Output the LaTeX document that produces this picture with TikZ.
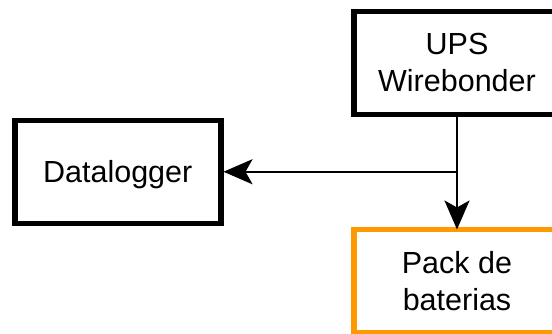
\documentclass[tikz,border=0pt]{standalone}
\usepackage{fontspec}
\setmainfont{Liberation Sans}
\usetikzlibrary{arrows.meta}
\definecolor{boxorange}{HTML}{FF9900}
\begin{document}
\begin{tikzpicture}[x=1pt,y=-1pt,
  box/.style={draw=black, line width=5.5pt, minimum width=206pt, minimum height=103pt,
    inner sep=0pt, align=center, text depth=0pt, font=\fontsize{30.5}{37}\selectfont},
  conn/.style={draw=black, line width=2.5pt,
    -{Stealth[length=29pt, width=25pt, inset=7pt]}}]
\useasboundingbox (0,0) rectangle (552,333);
\node[box] (ups) at (457,62.75) {UPS\\Wirebonder};
\node[box] (data) at (117.75,171.75) {Datalogger};
\node[box, draw=boxorange, outer sep=0pt] (pack) at (457,281) {Pack de\\baterias};
\coordinate (j) at (ups.south |- data.east);
\draw[conn] (ups.south) -- (pack.north);
\draw[conn] (j) -- (data.east);
\end{tikzpicture}
\end{document}
